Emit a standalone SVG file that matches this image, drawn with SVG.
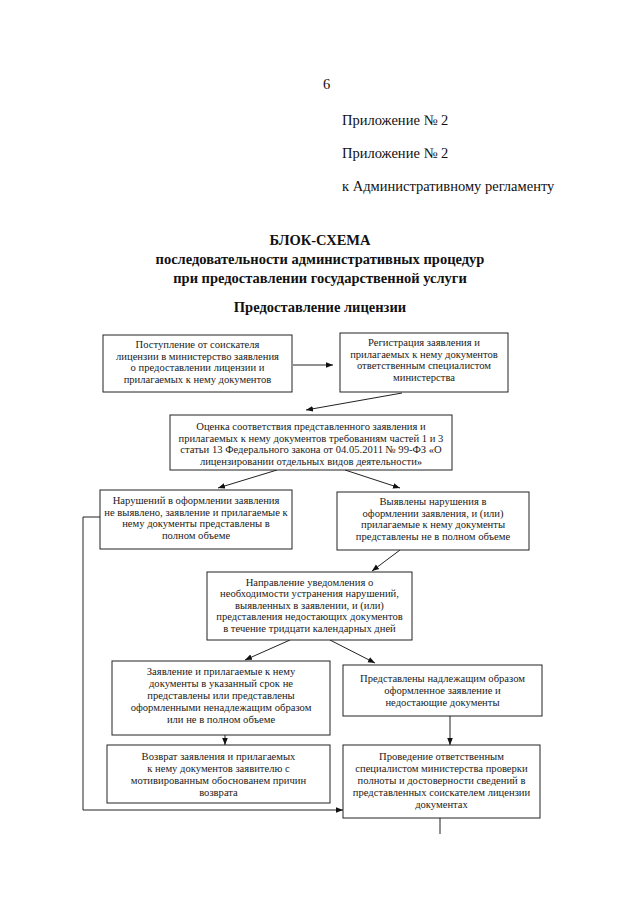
<svg xmlns="http://www.w3.org/2000/svg" width="640" height="905" viewBox="0 0 640 905">
<defs>
<style>
.h{font-family:"Liberation Serif",serif;font-size:14.5px;fill:#111}
.t{font-family:"Liberation Serif",serif;font-size:14.5px;font-weight:bold;fill:#111;text-anchor:middle}
.b{font-family:"Liberation Serif",serif;font-size:10.6px;fill:#222;text-anchor:middle}
.box{fill:#fff;stroke:#222;stroke-width:1}
.c{fill:none;stroke:#222;stroke-width:1}
</style>
<marker id="a" viewBox="0 0 10 10" refX="10" refY="5" markerWidth="7" markerHeight="7" orient="auto" markerUnits="userSpaceOnUse">
<path d="M0,1 L10,5 L0,9 z" fill="#111"/>
</marker>
</defs>
<rect width="640" height="905" fill="#fff"/>
<g id="header">
<text class="h" x="323" y="89">6</text>
<text class="h" x="342" y="125">Приложение № 2</text>
<text class="h" x="342" y="158">Приложение № 2</text>
<text class="h" x="342" y="191">к Административному регламенту</text>
<text class="t" x="320" y="245">БЛОК-СХЕМА</text>
<text class="t" x="320" y="264">последовательности административных процедур</text>
<text class="t" x="320" y="283">при предоставлении государственной услуги</text>
<text class="t" x="320" y="312">Предоставление лицензии</text>
</g>
<g id="connectors">
<line class="c" x1="293" y1="365" x2="333" y2="365" marker-end="url(#a)"/>
<line class="c" x1="402" y1="393" x2="306" y2="410" marker-end="url(#a)"/>
<line class="c" x1="277" y1="470" x2="218" y2="488" marker-end="url(#a)"/>
<line class="c" x1="345" y1="470" x2="400" y2="488" marker-end="url(#a)"/>
<line class="c" x1="400" y1="550" x2="372" y2="571" marker-end="url(#a)"/>
<line class="c" x1="290" y1="640" x2="245" y2="660" marker-end="url(#a)"/>
<line class="c" x1="330" y1="640" x2="375" y2="663" marker-end="url(#a)"/>
<line class="c" x1="225" y1="735" x2="225" y2="745" marker-end="url(#a)"/>
<line class="c" x1="450" y1="716" x2="450" y2="745" marker-end="url(#a)"/>
<polyline class="c" points="100,517 83,517 83,810 343,810" marker-end="url(#a)"/>
<line class="c" x1="440" y1="818" x2="440" y2="834"/>
</g>
<g id="n1">
<rect class="box" x="103" y="335" width="189" height="57"/>
<text class="b" x="197.5" y="348">Поступление от соискателя</text>
<text class="b" x="197.5" y="360">лицензии в министерство заявления</text>
<text class="b" x="197.5" y="371">о предоставлении лицензии и</text>
<text class="b" x="197.5" y="383">прилагаемых к нему документов</text>
</g>
<g id="n2">
<rect class="box" x="340" y="333" width="168" height="59"/>
<text class="b" x="424" y="346">Регистрация заявления и</text>
<text class="b" x="424" y="358">прилагаемых к нему документов</text>
<text class="b" x="424" y="369">ответственным специалистом</text>
<text class="b" x="424" y="381">министерства</text>
</g>
<g id="n3">
<rect class="box" x="170" y="415" width="282" height="55"/>
<text class="b" x="311" y="430">Оценка соответствия представленного заявления и</text>
<text class="b" x="311" y="442">прилагаемых к нему документов требованиям частей 1 и 3</text>
<text class="b" x="311" y="453">статьи 13 Федерального закона от 04.05.2011 № 99-ФЗ «О</text>
<text class="b" x="311" y="465">лицензировании отдельных видов деятельности»</text>
</g>
<g id="n4">
<rect class="box" x="100" y="490" width="192" height="59"/>
<text class="b" x="196" y="504">Нарушений в оформлении заявления</text>
<text class="b" x="196" y="516">не выявлено, заявление и прилагаемые к</text>
<text class="b" x="196" y="527">нему документы представлены в</text>
<text class="b" x="196" y="539">полном объеме</text>
</g>
<g id="n5">
<rect class="box" x="337" y="492" width="192" height="58"/>
<text class="b" x="433" y="505">Выявлены нарушения в</text>
<text class="b" x="433" y="517">оформлении заявления, и (или)</text>
<text class="b" x="433" y="528">прилагаемые к нему документы</text>
<text class="b" x="433" y="540">представлены не в полном объеме</text>
</g>
<g id="n6">
<rect class="box" x="207" y="572" width="205" height="68"/>
<text class="b" x="309.5" y="586">Направление уведомления о</text>
<text class="b" x="309.5" y="597">необходимости устранения нарушений,</text>
<text class="b" x="309.5" y="609">выявленных в заявлении, и (или)</text>
<text class="b" x="309.5" y="620">представления недостающих документов</text>
<text class="b" x="309.5" y="632">в течение тридцати календарных дней</text>
</g>
<g id="n7">
<rect class="box" x="112" y="661" width="218" height="74"/>
<text class="b" x="221" y="675">Заявление и прилагаемые к нему</text>
<text class="b" x="221" y="687">документы в указанный срок не</text>
<text class="b" x="221" y="699">представлены или представлены</text>
<text class="b" x="221" y="711">оформленными ненадлежащим образом</text>
<text class="b" x="221" y="723">или не в полном объеме</text>
</g>
<g id="n8">
<rect class="box" x="343" y="665" width="199" height="51"/>
<text class="b" x="442.5" y="682">Представлены надлежащим образом</text>
<text class="b" x="442.5" y="694">оформленное заявление и</text>
<text class="b" x="442.5" y="706">недостающие документы</text>
</g>
<g id="n9">
<rect class="box" x="107" y="745" width="223" height="58"/>
<text class="b" x="218.5" y="760">Возврат заявления и прилагаемых</text>
<text class="b" x="218.5" y="772">к нему документов заявителю с</text>
<text class="b" x="218.5" y="784">мотивированным обоснованем причин</text>
<text class="b" x="218.5" y="796">возврата</text>
</g>
<g id="n10">
<rect class="box" x="343" y="745" width="197" height="73"/>
<text class="b" x="441.5" y="760">Проведение ответственным</text>
<text class="b" x="441.5" y="772">специалистом министерства проверки</text>
<text class="b" x="441.5" y="784">полноты и достоверности сведений в</text>
<text class="b" x="441.5" y="796">представленных соискателем лицензии</text>
<text class="b" x="441.5" y="808">документах</text>
</g>
</svg>
